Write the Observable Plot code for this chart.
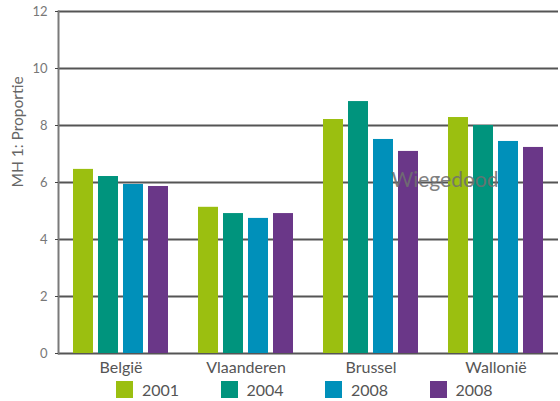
<!DOCTYPE html>
<html>
<head>
<meta charset="utf-8">
<script src="https://cdn.jsdelivr.net/npm/d3@7"></script>
<script src="https://cdn.jsdelivr.net/npm/@observablehq/plot@0.6"></script>
<style>
  body { margin: 0; background: white; font-family: Lato, "Open Sans", sans-serif; }
  #wrap { position: relative; width: 560px; height: 401px; }
  #legend { display: flex; padding-left: 116px; margin-top: 2px; }
  .item { display: flex; align-items: center; width: 104.5px; font-size: 16px; color: #555; }
  .sw { width: 17px; height: 17px; margin-right: 9px; }
  #wm { position: absolute; left: 445px; top: 178px; transform: translate(-50%, -50%);
        font-size: 21px; color: #707070; opacity: 0.88; white-space: nowrap; }
</style>
</head>
<body>
<div id="wrap"></div>
<script>
const groups = ["België", "Vlaanderen", "Brussel", "Wallonië"];
const seriesKeys = ["s2001", "s2004", "s2008a", "s2008b"];
const seriesLabels = ["2001", "2004", "2008", "2008"];
const seriesColors = ["#9bbf10", "#00947d", "#0090ba", "#6a3788"];
const values2001 = [6.46, 5.13, 8.21, 8.28];
const values2004 = [6.21, 4.91, 8.84, 8.00];
const values2008a = [5.93, 4.74, 7.51, 7.44];
const values2008b = [5.86, 4.91, 7.09, 7.23];
const yTicks = [0, 2, 4, 6, 8, 10, 12];
const yLabel = "MH 1: Proportie";
const overlayTitle = "Wiegedood";

const seriesValues = [values2001, values2004, values2008a, values2008b];
const data = groups.flatMap((g, i) =>
  seriesKeys.map((k, j) => ({group: g, series: k, value: seriesValues[j][i]})));

const chart = Plot.plot({
  width: 560, height: 378,
  marginLeft: 58, marginRight: 2, marginTop: 11, marginBottom: 25,
  style: {fontFamily: "Lato, 'Open Sans', sans-serif", background: "white"},
  fx: {domain: groups, paddingInner: 0, paddingOuter: 0, axis: null, label: null},
  x: {domain: seriesKeys, paddingInner: 0.2, paddingOuter: 0.6, axis: null},
  y: {domain: [0, 12], axis: null},
  color: {domain: seriesKeys, range: seriesColors},
  marks: [
    Plot.gridY(yTicks, {stroke: "#555", strokeOpacity: 1, strokeWidth: 2}),
    Plot.barY(data, {fx: "group", x: "series", y: "value", fill: "series"}),
    Plot.frame({anchor: "left", facetAnchor: "left", stroke: "#7a7a7a", strokeWidth: 2}),
    Plot.axisY(yTicks, {tickSize: 3, tickPadding: 8, stroke: "#444", fontSize: 13, fill: "#777", label: null}),
    Plot.text([yLabel], {frameAnchor: "left", facetAnchor: "left", rotate: -90, dx: -40, dy: 5,
      fontSize: 15.5, fill: "#666", text: d => d}),
    Plot.axisFx({anchor: "bottom", tickSize: 0, tickPadding: 8, fontSize: 16, fill: "#555", label: null})
  ]
});

const wrap = document.getElementById("wrap");
wrap.appendChild(chart);

const legend = d3.select(wrap).append("div").attr("id", "legend");
const items = legend.selectAll(".item").data(seriesKeys).join("div").attr("class", "item");
items.append("div").attr("class", "sw").style("background", (d, i) => seriesColors[i]);
items.append("span").text((d, i) => seriesLabels[i]);

d3.select(wrap).append("div").attr("id", "wm").text(overlayTitle);
</script>
</body>
</html>
